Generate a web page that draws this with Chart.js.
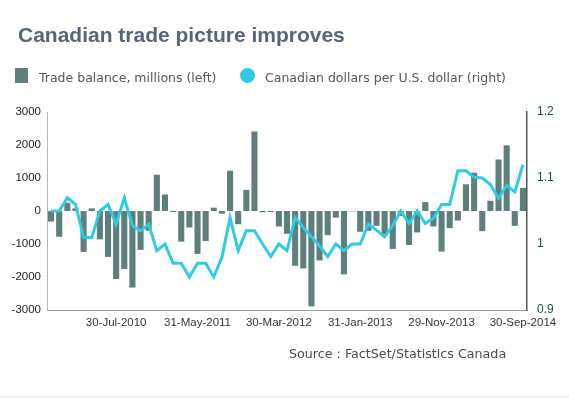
<!DOCTYPE html>
<html>
<head>
<meta charset="utf-8">
<script src="https://cdn.jsdelivr.net/npm/chart.js@4"></script>
<style>
  html, body { margin: 0; padding: 0; background: #fff; }
  #wrap { position: relative; width: 569px; height: 398px; overflow: hidden; }
  #myChart { position: absolute; left: 0; top: 0; }
  .title { position: absolute; left: 18px; top: 23px; font: bold 21px "Liberation Sans", Arial, sans-serif; line-height: 24px; color: #5a6474; white-space: nowrap; }
  .legend { position: absolute; top: 70px; left: 0; font: 12.5px "DejaVu Sans", Verdana, sans-serif; line-height: 15px; color: #555; white-space: nowrap; }
  .box { position: absolute; left: 15px; top: -2px; width: 13px; height: 15px; background: #5f7f7d; }
  .dot { position: absolute; left: 240px; top: -2px; width: 15px; height: 15px; border-radius: 50%; background: #2ecbe3; }
  .lab1 { position: absolute; left: 39px; top: 0; }
  .lab2 { position: absolute; left: 265px; top: 0; }
  .source { position: absolute; left: 289px; top: 346px; font: 12.7px "DejaVu Sans", Verdana, sans-serif; line-height: 15px; color: #4a4a4a; white-space: nowrap; }
  .rule { position: absolute; left: 0; right: 0; top: 396px; height: 1px; background: #e6e6e6; }
</style>
</head>
<body>
<div id="wrap">
  <canvas id="myChart" width="569" height="398"></canvas>
  <div class="title">Canadian trade picture improves</div>
  <div class="legend">
    <span class="box"></span><span class="lab1">Trade balance, millions (left)</span>
    <span class="dot"></span><span class="lab2">Canadian dollars per U.S. dollar (right)</span>
  </div>
  <div class="source">Source : FactSet/Statistics Canada</div>
  <div class="rule"></div>
</div>
<script>
// months Nov-2009 .. Sep-2014
var months = [
  'Nov-2009','Dec-2009',
  'Jan-2010','Feb-2010','Mar-2010','Apr-2010','May-2010','Jun-2010','Jul-2010','Aug-2010','Sep-2010','Oct-2010','Nov-2010','Dec-2010',
  'Jan-2011','Feb-2011','Mar-2011','Apr-2011','May-2011','Jun-2011','Jul-2011','Aug-2011','Sep-2011','Oct-2011','Nov-2011','Dec-2011',
  'Jan-2012','Feb-2012','Mar-2012','Apr-2012','May-2012','Jun-2012','Jul-2012','Aug-2012','Sep-2012','Oct-2012','Nov-2012','Dec-2012',
  'Jan-2013','Feb-2013','Mar-2013','Apr-2013','May-2013','Jun-2013','Jul-2013','Aug-2013','Sep-2013','Oct-2013','Nov-2013','Dec-2013',
  'Jan-2014','Feb-2014','Mar-2014','Apr-2014','May-2014','Jun-2014','Jul-2014','Aug-2014','Sep-2014'
];

// x labels shown on the axis
var tickLabels = {
  'Jul-2010': '30-Jul-2010',
  'May-2011': '31-May-2011',
  'Mar-2012': '30-Mar-2012',
  'Jan-2013': '31-Jan-2013',
  'Nov-2013': '29-Nov-2013',
  'Sep-2014': '30-Sep-2014'
};

// trade balance, millions (left axis)
var tradeBalance = [
  -320, -780, 250, 80, -1240, 80, -860, -1390, -2060, -1760,
  -2320, -1180, -600, 1100, 500, -30, -930, -500, -1300, -910,
  100, -80, 1220, -400, 640, 2410, -40, -30, -470, -690,
  -1660, -1740, -2890, -1500, -730, -200, -1920, -10, -630, -600,
  -450, -720, -1150, -150, -1030, -650, 270, -470, -1230, -520,
  -290, 810, 1160, -610, 310, 1560, 1990, -450, 700
];

// CAD per USD (right axis)
var cadPerUsd = [
  1.05, 1.05, 1.07, 1.06, 1.01, 1.01, 1.05, 1.06, 1.03, 1.07,
  1.028, 1.02, 1.03, 0.99, 1.0, 0.971, 0.971, 0.95, 0.971, 0.971,
  0.95, 0.98, 1.04, 0.99, 1.02, 1.02, 1.0, 0.981, 1.0, 0.99,
  1.04, 1.025, 1.011, 0.997, 0.981, 1.0, 0.99, 1.0, 1.0, 1.03,
  1.021, 1.011, 1.028, 1.05, 1.031, 1.05, 1.031, 1.039, 1.06, 1.06,
  1.111, 1.111, 1.101, 1.1, 1.09, 1.069, 1.089, 1.079, 1.12
];

var leftTicks = { min: -3000, max: 3000, step: 1000 };
var rightTicks = { min: 0.9, max: 1.2, step: 0.1 };

const ctx = document.getElementById('myChart');

new Chart(ctx, {
  data: {
    labels: months,
    datasets: [{
      type: 'line',
      label: 'Canadian dollars per U.S. dollar (right)',
      data: cadPerUsd,
      yAxisID: 'y1',
      borderColor: '#2ecbe3',
      borderWidth: 3,
      pointRadius: 0,
      tension: 0,
      order: 0
    },{
      type: 'bar',
      label: 'Trade balance, millions (left)',
      data: tradeBalance,
      yAxisID: 'y',
      backgroundColor: '#5f7f7d',
      barPercentage: 0.75,
      categoryPercentage: 1,
      order: 1
    }]
  },
  options: {
    responsive: false,
    animation: false,
    devicePixelRatio: 1,
    layout: { padding: { top: 112, bottom: 60, left: 0, right: 0 } },
    plugins: {
      legend: { display: false },
      title: { display: false },
      tooltip: { enabled: false }
    },
    scales: {
      x: {
        offset: true,
        grid: { display: false, drawTicks: false },
        border: { display: true, color: '#9a9a9a', width: 1 },
        ticks: {
          autoSkip: false,
          maxRotation: 0,
          padding: 6,
          color: '#333',
          font: { family: 'Liberation Sans', size: 11.5 },
          callback: function(v, i) { return tickLabels[months[i]] || ''; }
        },
        afterFit: function(s) { s.height = 28; }
      },
      y: {
        position: 'left',
        min: leftTicks.min,
        max: leftTicks.max,
        grid: { display: false, drawTicks: false },
        border: { display: true, color: '#b5b5b5', width: 1 },
        ticks: {
          stepSize: leftTicks.step,
          padding: 6,
          color: '#222',
          font: { family: 'Liberation Sans', size: 11.5 },
          callback: function(v) { return String(v); }
        },
        afterFit: function(s) { s.width = 47; }
      },
      y1: {
        position: 'right',
        min: rightTicks.min,
        max: rightTicks.max,
        grid: { display: false, drawTicks: false },
        border: { display: true, color: '#555', width: 1.5 },
        ticks: {
          stepSize: rightTicks.step,
          padding: 10,
          color: '#1f4a4a',
          font: { family: 'Liberation Sans', size: 12 },
          callback: function(v) { return String(Math.round(v * 10) / 10); }
        },
        afterFit: function(s) { s.width = 42; }
      }
    }
  }
});
</script>
</body>
</html>
